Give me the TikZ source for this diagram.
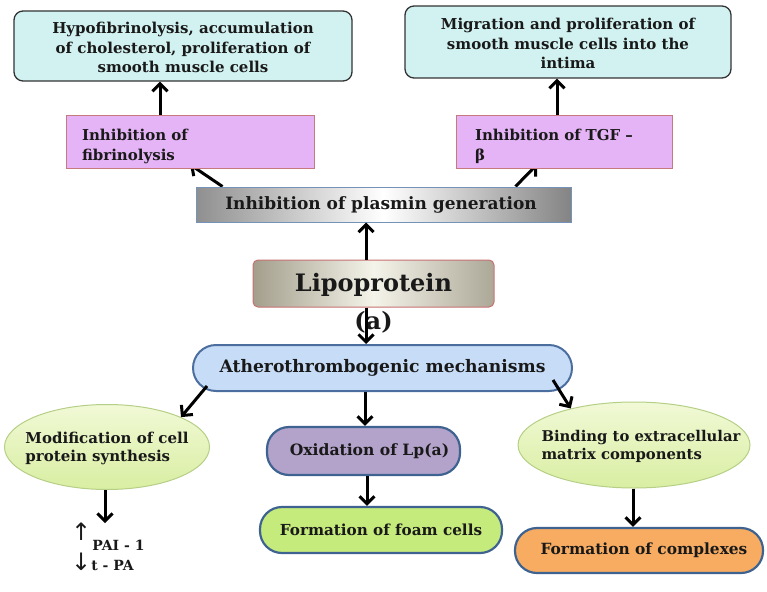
\documentclass[tikz,border=0pt]{standalone}
\usepackage{fontspec}
\setmainfont{DejaVu Serif}
\newfontfamily\symfont{DejaVu Sans}
\usetikzlibrary{arrows.meta,shapes.geometric,backgrounds}
\definecolor{cyanfill}{HTML}{D2F2F1}
\definecolor{cyandraw}{HTML}{333333}
\definecolor{pinkfill}{HTML}{E5B4F7}
\definecolor{pinkdraw}{HTML}{C77A7E}
\definecolor{plasdraw}{HTML}{7593B8}
\definecolor{plasgrey}{HTML}{8F8F8F}
\definecolor{lpdark}{HTML}{A39E8C}
\definecolor{lplight}{HTML}{F5F4EA}
\definecolor{lpdraw}{HTML}{C77070}
\definecolor{athfill}{HTML}{C7DDF7}
\definecolor{athdraw}{HTML}{4B6E9E}
\definecolor{elltop}{HTML}{F1F9D6}
\definecolor{ellbot}{HTML}{D9EEA2}
\definecolor{elldraw}{HTML}{B6CF86}
\definecolor{oxfill}{HTML}{B3A2CA}
\definecolor{foamfill}{HTML}{C5EB7C}
\definecolor{cxfill}{HTML}{F7AC62}
\definecolor{pilldraw}{HTML}{3F6391}
\newcommand{\fsz}[2]{\fontsize{#1}{#2}\selectfont}
\begin{document}
\begin{tikzpicture}[x=1pt,y=-1pt,
  every node/.style={text=black!90},
  topbox/.style={rectangle, rounded corners=9pt, draw=cyandraw, line width=1.3pt, fill=cyanfill, align=center, inner sep=0pt,
    font=\bfseries\fsz{15}{19.5}},
  pinkbox/.style={rectangle, draw=pinkdraw, line width=1pt, fill=pinkfill, align=left, inner sep=0pt, minimum height=53pt,
    font=\bfseries\fsz{15}{20}},
  pillbox/.style={rectangle, rounded corners=22pt, draw=pilldraw, line width=2.2pt, inner sep=0pt, font=\bfseries\fsz{15.4}{18}},
  ellbox/.style={ellipse, draw=elldraw, line width=1pt, top color=elltop, bottom color=ellbot, align=left, inner xsep=-20pt, inner ysep=0pt,
    font=\bfseries\fsz{15}{18}},
  arr/.style={line width=3pt, -{Straight Barb[length=7.5pt,width=15pt]}}
]
\useasboundingbox (0,0) rectangle (767,591);

\node[topbox, minimum width=338pt, minimum height=70pt] (hypo) at (183,46)
  {\rule{0pt}{15pt}Hypofibrinolysis, accumulation\\of  cholesterol,  proliferation of\\smooth muscle  cells};
\node[topbox, minimum width=326pt, minimum height=72pt] (migr) at (568,42)
  {\rule{0pt}{15pt}Migration and proliferation of\\smooth muscle cells into the\\intima};

\node[pinkbox, minimum width=248pt, text width=216pt] (fib) at (190,141.5)
  {\rule{0pt}{22pt}Inhibition of\\fibrinolysis\vphantom{p}};
\node[pinkbox, minimum width=216pt, text width=178pt] (tgf) at (564,141.5)
  {\rule{0pt}{22pt}Inhibition of  TGF --\\β\vphantom{p}};

\node[rectangle, draw=plasdraw, line width=1pt, left color=plasgrey, right color=plasgrey!110, middle color=white,
  minimum width=375pt, minimum height=35pt, inner sep=0pt, font=\bfseries\fsz{17}{20}] (plas) at (383.5,204.5)
  {Inhibition of plasmin generation\hspace*{5pt}};

\node[rectangle, rounded corners=5pt, draw=lpdraw, line width=1pt, left color=lpdark, right color=lpdark!90, middle color=lplight,
  minimum width=241pt, minimum height=47pt, inner sep=0pt, font=\bfseries\fsz{24}{26},
  label={[name=lpa, font=\bfseries\fsz{24}{26}, inner sep=0pt, yshift=-4pt]below:(a)}] (lp) at (373.5,283.5)
  {\rule{0pt}{21pt}Lipoprotein};

\node[rectangle, rounded corners=23pt, draw=athdraw, line width=2pt, fill=athfill,
  minimum width=379pt, minimum height=46pt, inner sep=0pt, font=\bfseries\fsz{17.2}{20}] (ath) at (382.5,368)
  {Atherothrombogenic mechanisms};

\node[ellbox, minimum width=205pt, minimum height=85pt] (mod) at (107,447)
  {\rule{0pt}{14pt}Modification of cell\\protein  synthesis};
\node[ellbox, minimum width=232pt, minimum height=86pt, font=\bfseries\fsz{14.8}{18}, inner xsep=-28pt] (bind) at (634,445)
  {\rule{0pt}{14pt}\hspace*{14pt}Binding to extracellular\\\hspace*{14pt}matrix components};

\node[pillbox, fill=oxfill, minimum width=193pt, minimum height=48pt, font=\bfseries\fsz{15.6}{18}] (ox) at (363.5,451)
  {\hspace*{12pt}Oxidation of  Lp(a)};
\node[pillbox, fill=foamfill, minimum width=242pt, minimum height=46pt, font=\bfseries\fsz{15.2}{18}] (foam) at (381,530)
  {Formation of foam  cells};
\node[pillbox, fill=cxfill, minimum width=248pt, minimum height=45pt] (cx) at (639,550.5)
  {\hspace*{10pt}Formation of complexes};

\node[align=left, inner sep=0pt, anchor=north west, font=\bfseries\fsz{14}{20}] (pai) at (71,523)
  {{\symfont\mdseries\fsz{24}{20}\raisebox{10pt}{\char"2191}}\hspace{1pt}PAI - 1\\{\symfont\mdseries\fsz{24}{20}\char"2193}t - PA};

% connectors
\draw[arr] ([xshift=-30pt]fib.north) -- ([xshift=-30pt]fib.north |- hypo.south);
\draw[arr] ([xshift=-7pt]tgf.north) -- ([xshift=-7pt]tgf.north |- migr.south);
\begin{pgfonlayer}{background}
\draw[arr] ([xshift=27pt]plas.north west) -- ([yshift=4pt]fib.south);
\draw[arr] ([xshift=-56pt]plas.north east) -- ([xshift=-27pt,yshift=4pt]tgf.south);
\end{pgfonlayer}
\draw[arr] ([xshift=-7.5pt]lp.north) -- ([xshift=-7.5pt]lp.north |- plas.south);
\draw[arr] ([xshift=-7.5pt]lp.south) -- ([xshift=-7.5pt]lp.south |- ath.north);
\draw[arr] ([xshift=15pt,yshift=6pt]ath.south west) -- (mod.22);
\draw[arr] ([xshift=-17.5pt]ath.south) -- ([xshift=-17.5pt]ath.south |- ox.north);
\draw[arr] ([xshift=-20pt,yshift=12pt]ath.south east) -- (bind.150);
\draw[arr] ([xshift=3.5pt]ox.south) -- ([xshift=3.5pt]ox.south |- foam.north);
\draw[arr] ([xshift=-2pt]mod.south) -- ([xshift=-2pt]mod.south |- pai.north);
\draw[arr] ([xshift=-1pt]bind.south) -- ([xshift=-1pt]bind.south |- cx.north);
\end{tikzpicture}
\end{document}
